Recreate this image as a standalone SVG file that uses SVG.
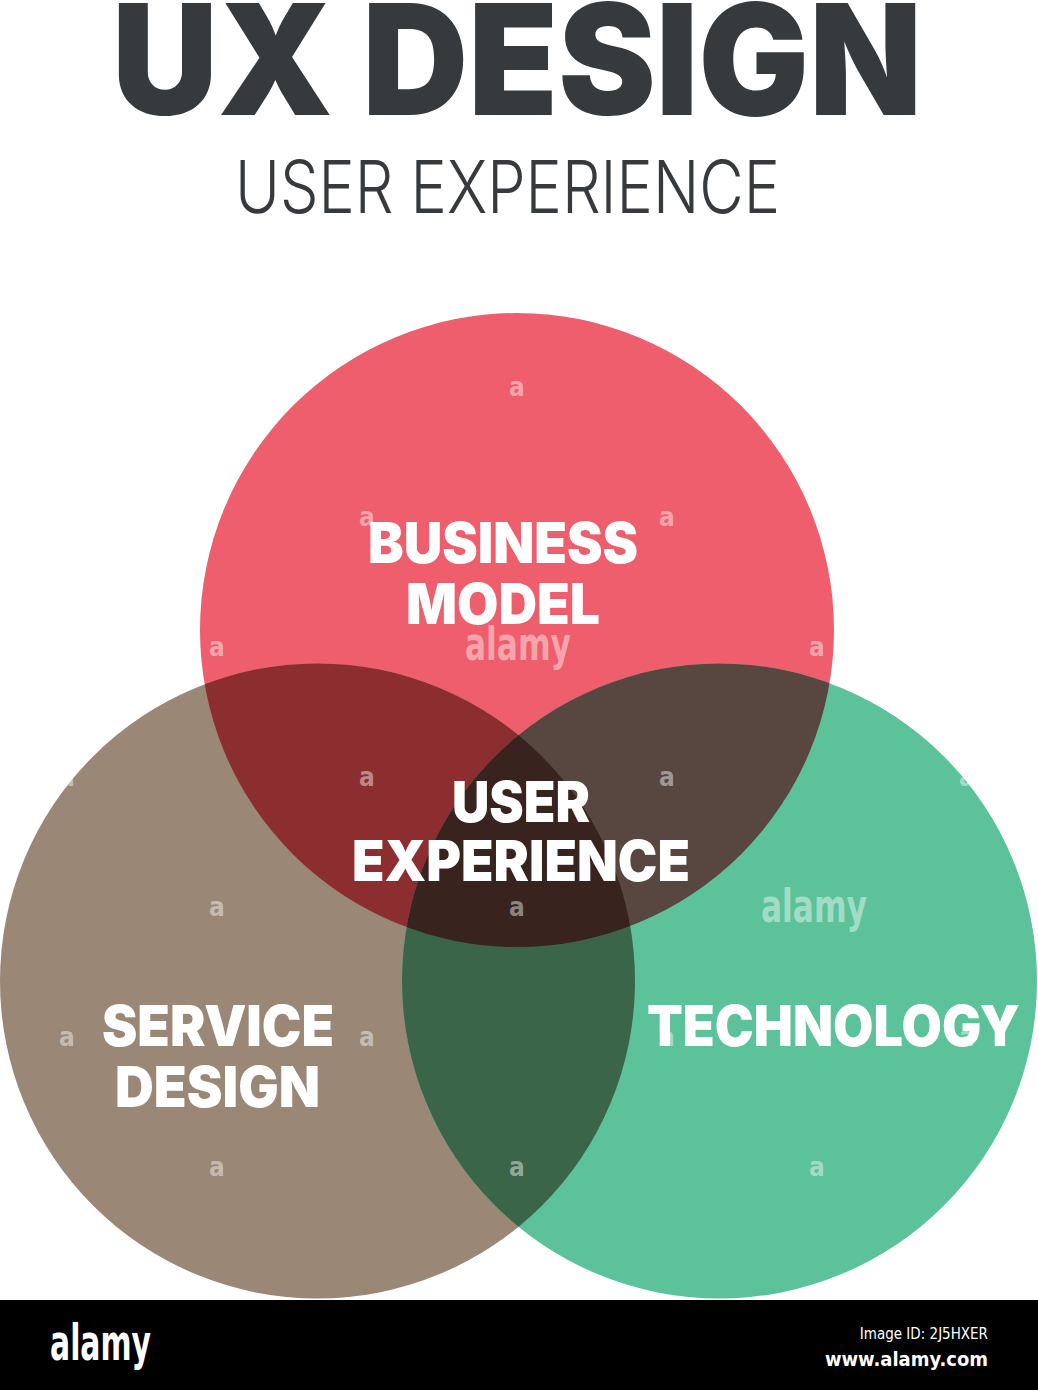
<svg xmlns="http://www.w3.org/2000/svg" width="1038" height="1390" viewBox="0 0 1038 1390">
<style>
.title{font-family:Inter,"Liberation Sans",sans-serif;font-weight:900;fill:#363a3d}
.sub{font-family:Inter,"Liberation Sans",sans-serif;font-weight:300;fill:#363a3d}
.lbl{font-family:Inter,"Liberation Sans",sans-serif;font-weight:900;font-size:56px;fill:#ffffff}
.wm{font-family:"DejaVu Sans Condensed","Liberation Sans Narrow",sans-serif;font-weight:bold;font-size:26px;fill:#ffffff;fill-opacity:0.45;text-anchor:middle}
.wm2{font-family:"DejaVu Sans Condensed","Liberation Sans Narrow",sans-serif;font-weight:bold;font-size:46px;fill:#ffffff;fill-opacity:0.45;text-anchor:middle}
</style>
<defs>
<clipPath id="cR"><circle cx="517" cy="630" r="317"/></clipPath>
<clipPath id="cB"><circle cx="317.5" cy="981" r="317.5"/></clipPath>
</defs>
<rect width="1038" height="1390" fill="#ffffff"/>
<text class="title" x="112" y="115" font-size="154" textLength="810" lengthAdjust="spacingAndGlyphs">UX DESIGN</text>
<text class="sub" x="235" y="213" font-size="73" textLength="545" lengthAdjust="spacingAndGlyphs">USER EXPERIENCE</text>
<g id="circle-business">
<circle cx="517" cy="630" r="317" fill="#ee5e6c"/>
</g>
<g id="circle-service">
<circle cx="317.5" cy="981" r="317.5" fill="#9a8775"/>
<circle cx="317.5" cy="981" r="317.5" fill="#8c2d2f" clip-path="url(#cR)"/>
</g>
<g id="circle-technology">
<circle cx="719.5" cy="981" r="317.5" fill="#5cc29a"/>
<circle cx="719.5" cy="981" r="317.5" fill="#574740" clip-path="url(#cR)"/>
<circle cx="719.5" cy="981" r="317.5" fill="#3a6549" clip-path="url(#cB)"/>
<g clip-path="url(#cR)"><circle cx="719.5" cy="981" r="317.5" fill="#38231f" clip-path="url(#cB)"/></g>
</g>
<g id="watermarks">
<text class="wm" x="517" y="396">a</text>
<text class="wm" x="367" y="526">a</text>
<text class="wm" x="667" y="526">a</text>
<text class="wm" x="217" y="656">a</text>
<text class="wm" x="817" y="656">a</text>
<text class="wm" x="67" y="786">a</text>
<text class="wm" x="367" y="786">a</text>
<text class="wm" x="667" y="786">a</text>
<text class="wm" x="967" y="786">a</text>
<text class="wm" x="217" y="916">a</text>
<text class="wm" x="517" y="916">a</text>
<text class="wm" x="67" y="1046">a</text>
<text class="wm" x="367" y="1046">a</text>
<text class="wm" x="667" y="1046">a</text>
<text class="wm" x="967" y="1046">a</text>
<text class="wm" x="217" y="1176">a</text>
<text class="wm" x="517" y="1176">a</text>
<text class="wm" x="817" y="1176">a</text>
<text class="wm2" x="518" y="660" textLength="106" lengthAdjust="spacingAndGlyphs">alamy</text>
<text class="wm2" x="814" y="922" textLength="106" lengthAdjust="spacingAndGlyphs">alamy</text>
</g>
<g id="labels">
<text class="lbl" x="368" y="563" textLength="270" lengthAdjust="spacingAndGlyphs">BUSINESS</text>
<text class="lbl" x="406" y="624" textLength="194" lengthAdjust="spacingAndGlyphs">MODEL</text>
<text class="lbl" x="452" y="822" textLength="138" lengthAdjust="spacingAndGlyphs">USER</text>
<text class="lbl" x="352" y="881" textLength="338" lengthAdjust="spacingAndGlyphs">EXPERIENCE</text>
<text class="lbl" x="102" y="1046" textLength="232" lengthAdjust="spacingAndGlyphs">SERVICE</text>
<text class="lbl" x="115" y="1107" textLength="205" lengthAdjust="spacingAndGlyphs">DESIGN</text>
<text class="lbl" x="647" y="1046" textLength="373" lengthAdjust="spacingAndGlyphs">TECHNOLOGY</text>
</g>
<g id="banner">
<rect x="0" y="1300" width="1038" height="90" fill="#000000"/>
<text x="50" y="1360" font-family="'DejaVu Sans Condensed','Liberation Sans Narrow',sans-serif" font-weight="bold" font-size="50" fill="#ffffff" textLength="101" lengthAdjust="spacingAndGlyphs">alamy</text>
<text x="988" y="1339" text-anchor="end" font-family="'DejaVu Sans Condensed','Liberation Sans Narrow',sans-serif" font-size="15" fill="#ffffff">Image ID: 2J5HXER</text>
<text x="988" y="1366" text-anchor="end" font-family="'DejaVu Sans Condensed','Liberation Sans Narrow',sans-serif" font-weight="bold" font-size="20" fill="#ffffff">www.alamy.com</text>
</g>
</svg>
